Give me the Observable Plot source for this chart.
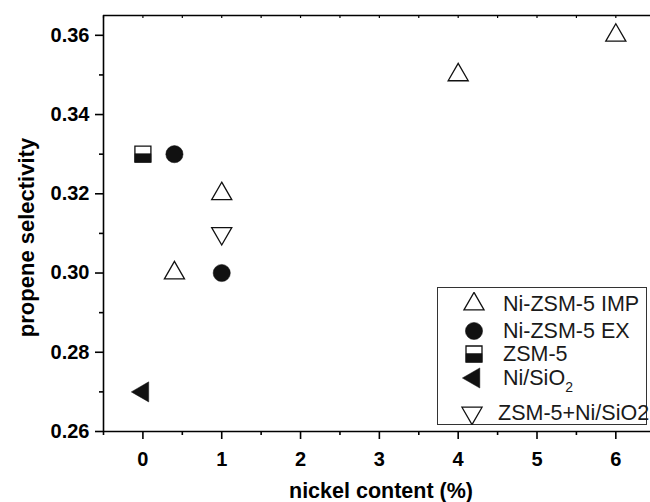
<!DOCTYPE html>
<html>
<head>
<meta charset="utf-8">
<script src="https://cdn.jsdelivr.net/npm/d3@7"></script>
<script src="https://cdn.jsdelivr.net/npm/@observablehq/plot@0.6"></script>
<style>
  html, body { margin: 0; padding: 0; background: #fff; overflow: hidden; }
  #wrap { position: relative; width: 650px; height: 502px; font-family: "Liberation Sans", Arial, sans-serif; }
  #legend { position: absolute; left: 437px; top: 287px; width: 210px; height: 138px; border: 1px solid #333; background: #fff; box-sizing: border-box; }
  .row { position: absolute; left: 0; height: 24px; display: block; font-size: 21.5px; color: #1a1a1a; white-space: nowrap; }
  .row svg { position: absolute; top: 0; }
  .row span { position: absolute; top: 0; line-height: 24px; }
  sub { font-size: 14px; vertical-align: -7px; line-height: 0; }
</style>
</head>
<body>
<div id="wrap"></div>
<script>
// ---- data ----
const seriesNames = ["Ni-ZSM-5 IMP", "Ni-ZSM-5 EX", "ZSM-5", "Ni/SiO2", "ZSM-5+Ni/SiO2"];
const impX = [0.4, 1, 4, 6];
const impY = [0.30, 0.32, 0.35, 0.36];
const exX = [0.4, 1];
const exY = [0.33, 0.30];
const zsmX = [0];
const zsmY = [0.33];
const niSiO2X = [0];
const niSiO2Y = [0.27];
const mixX = [1];
const mixY = [0.31];
const xTicks = [0, 1, 2, 3, 4, 5, 6];
const xMinorTicks = [-0.5, 0.5, 1.5, 2.5, 3.5, 4.5, 5.5];
const yTicks = [0.26, 0.28, 0.30, 0.32, 0.34, 0.36];
const yMinorTicks = [0.27, 0.29, 0.31, 0.33, 0.35];

const toRows = (xs, ys) => xs.map((x, i) => ({x, y: ys[i]}));

// ---- symbols ----
const s3 = Math.sqrt(3);
const A = 5.8;
const triUp = {draw(c) { c.moveTo(0, -2 * A); c.lineTo(s3 * A, A); c.lineTo(-s3 * A, A); c.closePath(); }};
const triDown = {draw(c) { c.moveTo(0, 2 * A); c.lineTo(s3 * A, -A); c.lineTo(-s3 * A, -A); c.closePath(); }};
const triLeft = {draw(c) { c.moveTo(-2 * A, 0); c.lineTo(A, -s3 * A); c.lineTo(A, s3 * A); c.closePath(); }};
const sqFull = {draw(c) { c.rect(-8, -8, 16, 16); }};
const sqHalf = {draw(c) { c.rect(-8, -0.5, 16, 8.5); }};
const circ = {draw(c) { c.moveTo(8.6, 0); c.arc(0, 0, 8.6, 0, 2 * Math.PI); }};

const font = "Liberation Sans, Arial, sans-serif";

const chart = Plot.plot({
  width: 650,
  height: 502,
  marginLeft: 103,
  marginRight: 0,
  marginTop: 15,
  marginBottom: 71,
  style: {fontFamily: font, color: "#000", background: "#fff"},
  x: {domain: [-0.5, 6.44]},
  y: {domain: [0.26, 0.365]},
  marks: [
    Plot.ruleX([-0.5], {stroke: "#000", strokeWidth: 1.6}),
    Plot.ruleY([0.26, 0.365], {stroke: "#000", strokeWidth: 1.6}),
    Plot.axisY({ticks: yTicks, tickSize: 8, tickPadding: 6, tickFormat: d3.format(".2f"), fontSize: 20, fontWeight: "bold", label: null, stroke: "#000", strokeWidth: 1.6}),
    Plot.axisY({ticks: yMinorTicks, tickSize: 4, tickFormat: () => "", label: null, stroke: "#000", strokeWidth: 1.6}),
    Plot.axisX({ticks: xTicks, tickSize: 8, tickPadding: 12, tickFormat: d3.format("d"), fontSize: 20, fontWeight: "bold", label: null, stroke: "#000", strokeWidth: 1.6}),
    Plot.axisX({ticks: xMinorTicks, tickSize: 4, tickFormat: () => "", label: null, stroke: "#000", strokeWidth: 1.6}),
    Plot.axisX({anchor: "top", ticks: d3.range(-0.5, 6.5, 0.5), tickSize: -2, tickFormat: () => "", label: null, stroke: "#000", strokeWidth: 1.2}),
    Plot.text(["nickel content (%)"], {frameAnchor: "bottom", dx: 4, dy: 60, lineAnchor: "middle", textAnchor: "middle", fontSize: 21.5, fontWeight: "bold", fill: "#000"}),
    Plot.text(["propene selectivity"], {frameAnchor: "left", dx: -77, dy: 14, rotate: -90, textAnchor: "middle", lineAnchor: "middle", fontSize: 22, fontWeight: "bold", fill: "#000"}),
    Plot.dot(toRows(impX, impY), {x: "x", y: "y", symbol: triUp, fill: "white", stroke: "#111", strokeWidth: 1.3}),
    Plot.dot(toRows(exX, exY), {x: "x", y: "y", symbol: circ, fill: "#111", stroke: "#111", strokeWidth: 0.5}),
    Plot.dot(toRows(zsmX, zsmY), {x: "x", y: "y", symbol: sqFull, fill: "white", stroke: "#111", strokeWidth: 1.3}),
    Plot.dot(toRows(zsmX, zsmY), {x: "x", y: "y", symbol: sqHalf, fill: "#111", stroke: "#111", strokeWidth: 0.5}),
    Plot.dot(toRows(niSiO2X, niSiO2Y), {x: "x", y: "y", symbol: triLeft, fill: "#111", stroke: "#111", strokeWidth: 0.5}),
    Plot.dot(toRows(mixX, mixY), {x: "x", y: "y", symbol: triDown, fill: "white", stroke: "#111", strokeWidth: 1.3})
  ]
});

const wrap = document.getElementById("wrap");
wrap.appendChild(chart);

// ---- legend ----
const legend = document.createElement("div");
legend.id = "legend";
wrap.appendChild(legend);
const legendSymbols = [
  [{s: triUp, fill: "white", sw: 1.3}],
  [{s: circ, fill: "#111", sw: 0.5}],
  [{s: sqFull, fill: "white", sw: 1.3}, {s: sqHalf, fill: "#111", sw: 0.5}],
  [{s: triLeft, fill: "#111", sw: 0.5}],
  [{s: triDown, fill: "white", sw: 1.3}]
];
const rowTops = [4, 31, 54, 78, 113];
const symX = [36, 36, 36, 36, 34];
const textX = [65, 65, 65, 65, 60];
seriesNames.forEach((name, i) => {
  const row = document.createElement("div");
  row.className = "row";
  row.style.top = rowTops[i] + "px";
  row.style.width = "208px";
  const svg = d3.create("svg").attr("width", 24).attr("height", 24)
    .style("left", (symX[i] - 12) + "px");
  legendSymbols[i].forEach(o => {
    const p = d3.path();
    o.s.draw(p);
    svg.append("path").attr("d", p.toString()).attr("transform", "translate(12,12)")
      .attr("fill", o.fill).attr("stroke", "#111").attr("stroke-width", o.sw);
  });
  row.appendChild(svg.node());
  const span = document.createElement("span");
  span.style.left = textX[i] + "px";
  if (name === "Ni/SiO2") {
    span.innerHTML = "Ni/SiO<sub>2</sub>";
  } else {
    span.textContent = name;
  }
  row.appendChild(span);
  legend.appendChild(row);
});
</script>
</body>
</html>
